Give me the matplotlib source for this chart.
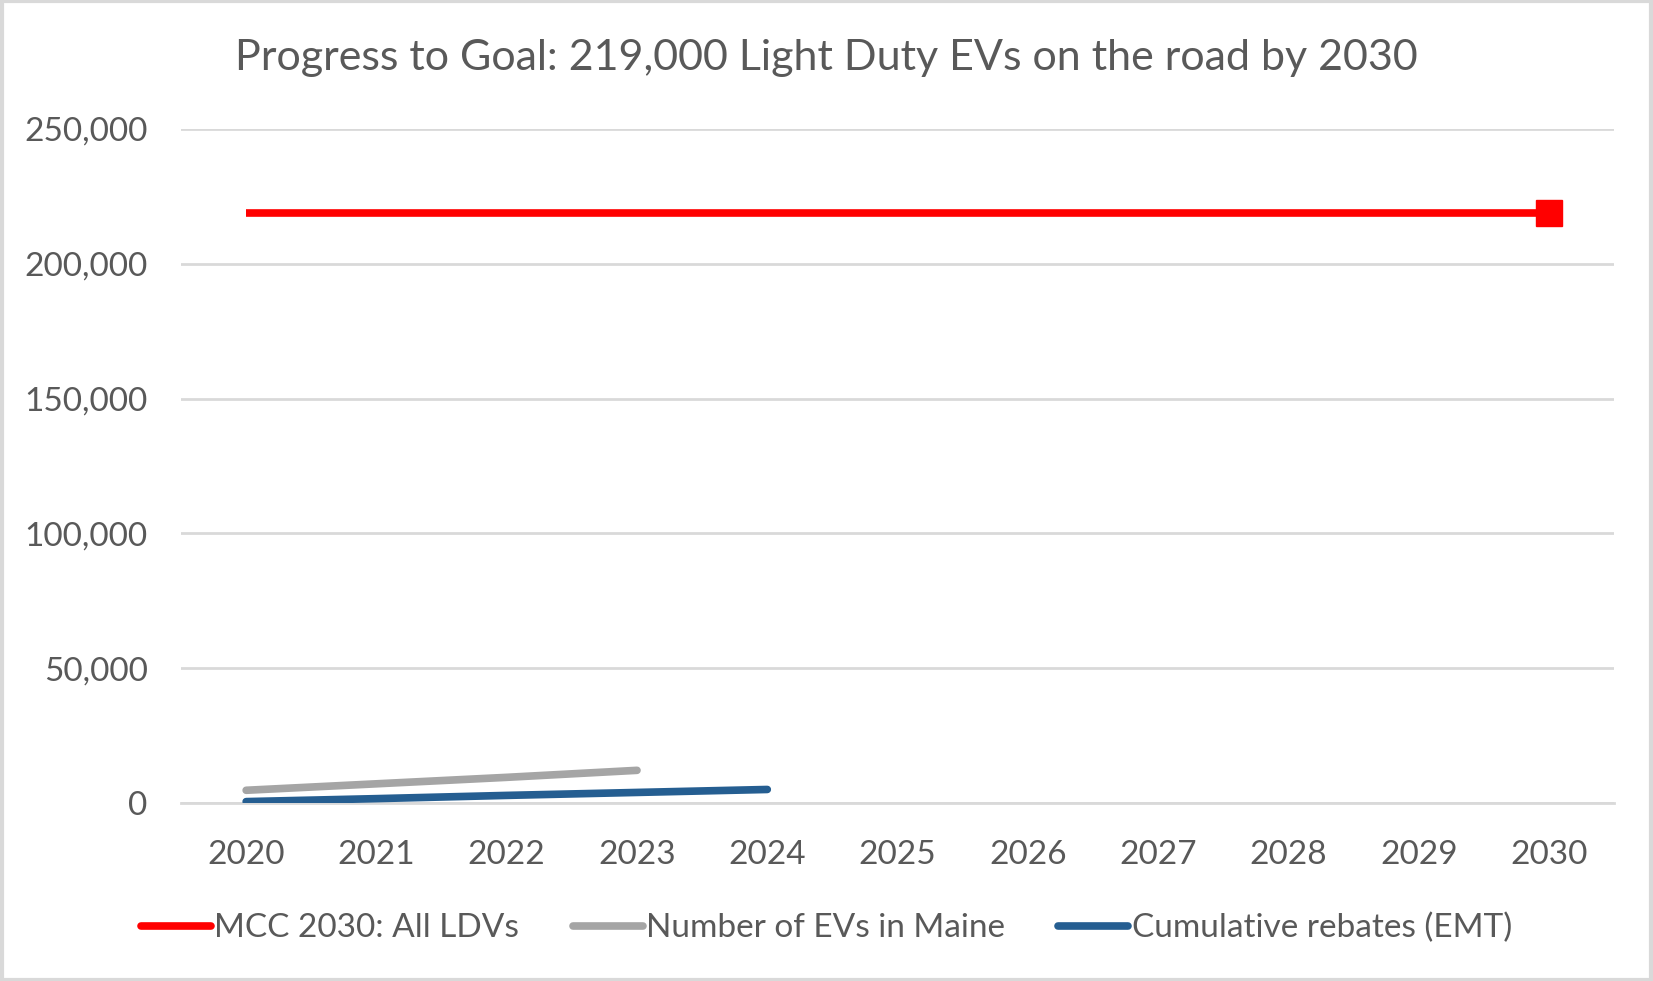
import numpy as np
import matplotlib
matplotlib.use("Agg")
import matplotlib.pyplot as plt
from matplotlib.patches import Rectangle
from matplotlib.lines import Line2D
from matplotlib.ticker import FuncFormatter

# ============================================================
# Data
# ============================================================

years = [2020, 2021, 2022, 2023, 2024, 2025, 2026, 2027, 2028, 2029, 2030]
goal_ldvs = [219000, 219000, 219000, 219000, 219000, 219000,
             219000, 219000, 219000, 219000, 219000]

ev_years = [2020, 2021, 2022, 2023]
evs_in_maine = [4700, 7100, 9500, 12100]

rebate_years = [2020, 2021, 2022, 2023, 2024]
cumulative_rebates = [500, 1600, 2800, 3900, 5000]

series_labels = ["MCC 2030: All LDVs", "Number of EVs in Maine",
                 "Cumulative rebates (EMT)"]
title = "Progress to Goal: 219,000 Light Duty EVs on the road by 2030"

# ============================================================
# Styling
# ============================================================

plt.rcParams["font.family"] = ["Lato", "DejaVu Sans"]
TEXT = "#595959"
GRID = "#d9d9d9"
RED = "#ff0000"
GREY = "#a5a5a5"
BLUE = "#255e91"
LW = 5.5

fig = plt.figure(figsize=(16.53, 9.81), dpi=100)
ax = fig.add_axes([0.1095, 0.1815, 0.867, 0.687])

ax.plot(years, goal_ldvs, color=RED, lw=LW, solid_capstyle="butt",
        marker="s", markevery=[len(years) - 1], markersize=19)
ax.plot(ev_years, evs_in_maine, color=GREY, lw=LW, solid_capstyle="round")
ax.plot(rebate_years, cumulative_rebates, color=BLUE, lw=LW,
        solid_capstyle="round")

ax.set_xlim(years[0] - 0.5, years[-1] + 0.5)
ax.set_ylim(0, 250000)
ax.set_xticks(years)
ax.set_yticks(np.arange(0, 250001, 50000))
ax.yaxis.set_major_formatter(FuncFormatter(lambda v, p: f"{int(v):,}"))

ax.grid(axis="y", color=GRID, lw=2)
ax.set_axisbelow(True)
for side in ["top", "right", "left"]:
    ax.spines[side].set_visible(False)
ax.spines["bottom"].set_color(GRID)
ax.spines["bottom"].set_linewidth(2)
ax.spines["bottom"].set_zorder(0)

ax.tick_params(axis="both", length=0, labelsize=24, labelcolor=TEXT)
ax.tick_params(axis="x", pad=27)
ax.tick_params(axis="y", pad=24)

fig.text(0.5, 1 - 58 / 981, title, ha="center", va="center",
         fontsize=31, color=TEXT)

# legend shows plain line swatches, no marker
handles = [Line2D([], [], color=c, lw=LW, solid_capstyle="round")
           for c in (RED, GREY, BLUE)]
fig.legend(handles, series_labels, loc="center",
           bbox_to_anchor=(0.5, 1 - 928 / 981), ncol=3,
           frameon=False, fontsize=24, labelcolor=TEXT,
           handlelength=2.1, handletextpad=0.1, columnspacing=1.6)

# frame round the whole chart
fig.patches.append(Rectangle((0.001, 0.0015), 0.998, 0.997,
                             transform=fig.transFigure, fill=False,
                             edgecolor=GRID, lw=3))

fig.savefig("out.png", dpi=100)
